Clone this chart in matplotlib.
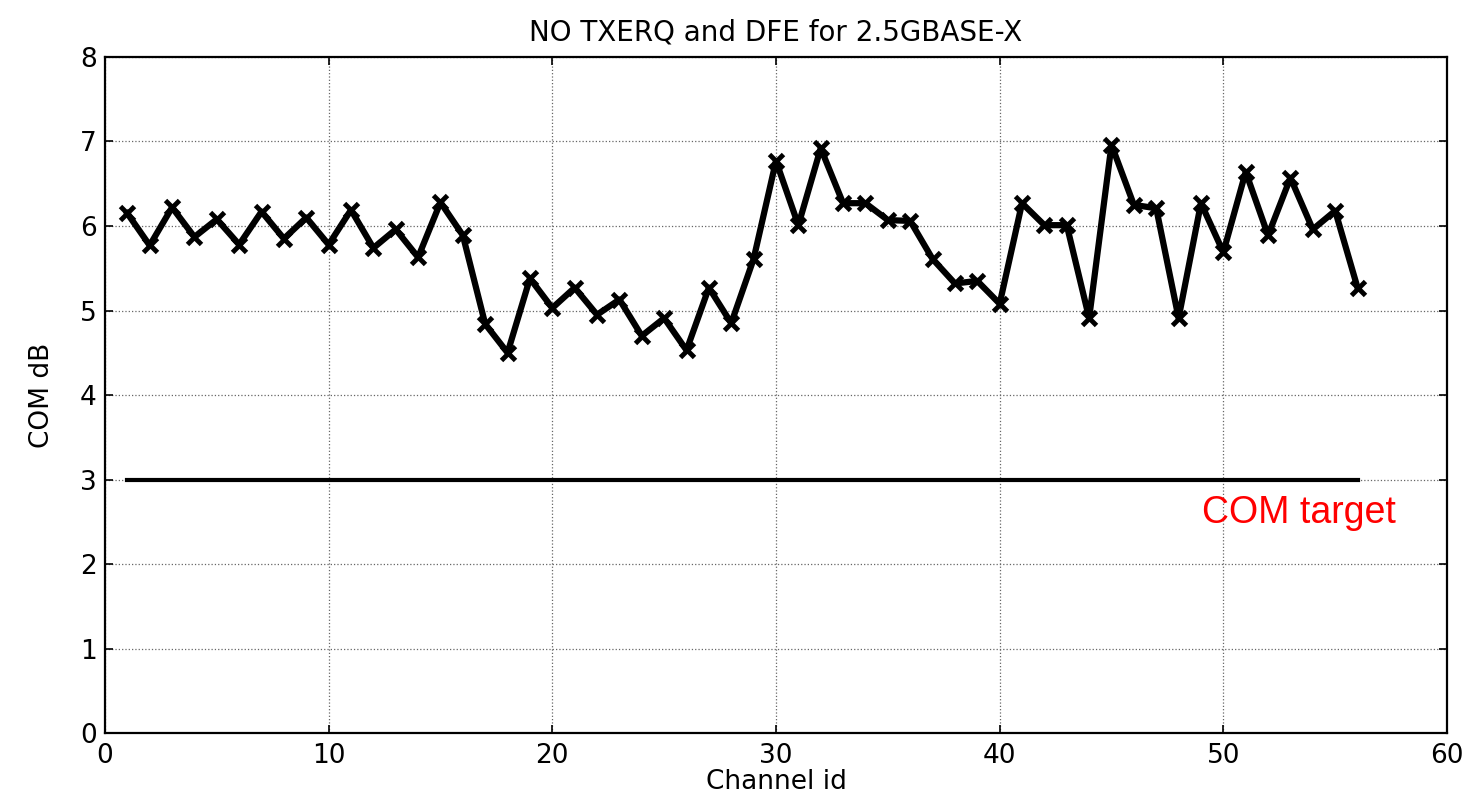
import matplotlib
matplotlib.use("Agg")
import matplotlib.pyplot as plt

channels = list(range(1, 57))
com_db = [6.15, 5.77, 6.22, 5.87, 6.08, 5.78, 6.17, 5.85, 6.10, 5.78,
          6.19, 5.74, 5.96, 5.63, 6.28, 5.89, 4.84, 4.50, 5.38, 5.03,
          5.27, 4.95, 5.13, 4.70, 4.91, 4.53, 5.27, 4.85, 5.61, 6.77,
          6.01, 6.92, 6.27, 6.27, 6.07, 6.06, 5.61, 5.32, 5.35, 5.08,
          6.27, 6.01, 6.01, 4.91, 6.96, 6.25, 6.21, 4.91, 6.27, 5.69,
          6.64, 5.89, 6.57, 5.96, 6.18, 5.27]
target_x = [1, 56]
target_y = [3, 3]

title = "NO TXERQ and DFE for 2.5GBASE-X"
xlabel = "Channel id"
ylabel = "COM dB"
target_label = "COM target"

plt.rcParams['font.family'] = ['DejaVu Sans']
fig = plt.figure(figsize=(14.68, 8.05), dpi=100)
ax = fig.add_axes([0.0715, 0.0894, 0.9142, 0.8398])

ax.plot(channels, com_db, color='black', linewidth=4.5, marker='x',
        markersize=10, markeredgewidth=3.5, zorder=3)
ax.plot(target_x, target_y, color='black', linewidth=3, zorder=3)
ax.text(53.4, 2.6, target_label, color='red', fontsize=27,
        family=['Liberation Sans', 'DejaVu Sans'], ha='center', va='center')

ax.set_xlim(0, 60)
ax.set_ylim(0, 8)
ax.set_xticks(range(0, 61, 10))
ax.set_yticks(range(0, 9))
ax.grid(True, linestyle=':', color='#666666', linewidth=0.9)
ax.tick_params(direction='in', length=6, width=1.2, top=True, right=True,
               labelsize=19)
ax.tick_params(axis='x', pad=7)
ax.tick_params(axis='y', pad=6)
for s in ax.spines.values():
    s.set_linewidth(1.6)

ax.set_title(title, fontsize=20, pad=12)
ax.set_xlabel(xlabel, fontsize=19, labelpad=0)
ax.set_ylabel(ylabel, fontsize=19, labelpad=18)

fig.savefig("out.png", dpi=100)
